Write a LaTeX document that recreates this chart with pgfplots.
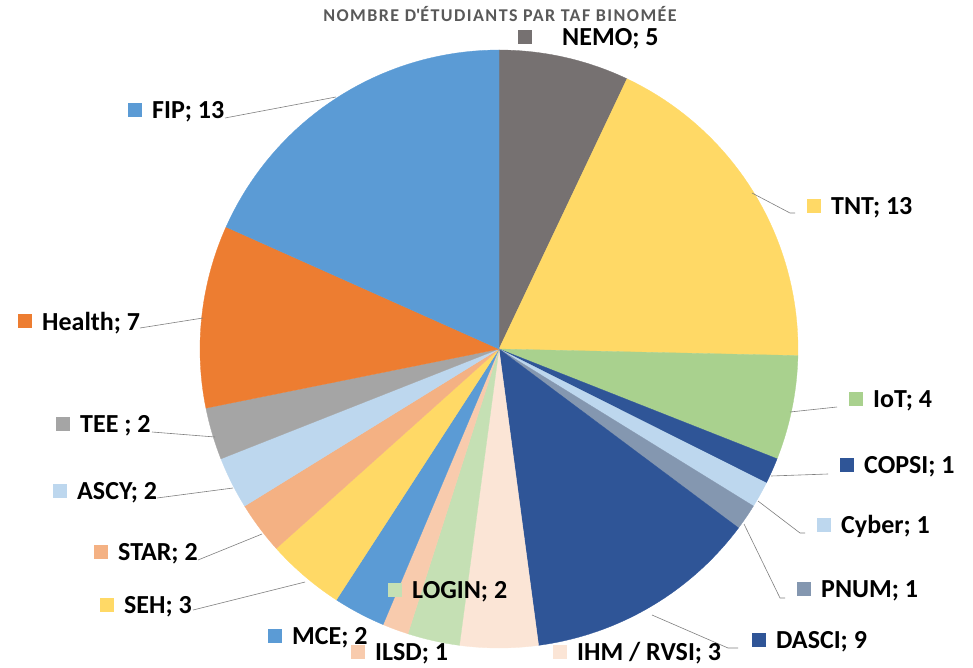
\documentclass[border=0pt]{standalone}
\usepackage{pgfplots}
\pgfplotsset{compat=1.18}
\usepackage{pgfplotstable}
\usepackage{fontspec}
\setmainfont{Carlito}
\newfontfamily\titlefont[LetterSpace=8]{Carlito}
\definecolor{cNEMO}{HTML}{767171}
\definecolor{cTNT}{HTML}{FFD966}
\definecolor{cIoT}{HTML}{A9D18E}
\definecolor{cCOPSI}{HTML}{2F5597}
\definecolor{cCyber}{HTML}{BDD7EE}
\definecolor{cPNUM}{HTML}{8497B0}
\definecolor{cDASCI}{HTML}{2F5597}
\definecolor{cIHM}{HTML}{FBE5D6}
\definecolor{cLOGIN}{HTML}{C5E0B4}
\definecolor{cILSD}{HTML}{F8CBAD}
\definecolor{cMCE}{HTML}{5B9BD5}
\definecolor{cSEH}{HTML}{FFD966}
\definecolor{cSTAR}{HTML}{F4B183}
\definecolor{cASCY}{HTML}{BDD7EE}
\definecolor{cTEE}{HTML}{A5A5A5}
\definecolor{cHealth}{HTML}{ED7D31}
\definecolor{cFIP}{HTML}{5B9BD5}
\definecolor{titlegray}{HTML}{595959}
\definecolor{leader}{HTML}{7F7F7F}

\pgfplotstableread[col sep=comma]{
name,value,color
NEMO,5,cNEMO
TNT,13,cTNT
IoT,4,cIoT
COPSI,1,cCOPSI
Cyber,1,cCyber
PNUM,1,cPNUM
DASCI,9,cDASCI
IHM,3,cIHM
LOGIN,2,cLOGIN
ILSD,1,cILSD
MCE,2,cMCE
SEH,3,cSEH
STAR,2,cSTAR
ASCY,2,cASCY
TEE,2,cTEE
Health,7,cHealth
FIP,13,cFIP
}\pietable

\newcommand{\labfont}{\fontsize{26}{29}\selectfont\bfseries}
\newcommand{\lab}[4]{% x, Y(baseline), color, text
  \node[anchor=base west, inner sep=0pt, font=\labfont] at (axis cs:#1,#2)
    {\textcolor{#3}{\rule[1.5pt]{14pt}{14pt}}\hspace{10pt}#4};}

\begin{document}
\begin{tikzpicture}
\begin{axis}[hide axis, scale only axis, x=1pt, y=1pt,
  xmin=0, xmax=973, ymin=0, ymax=667, clip=false]
% pie slices
\pgfplotstablegetrowsof{\pietable}
\pgfmathtruncatemacro\nrows{\pgfplotsretval-1}
\gdef\total{0}
\pgfplotsforeachungrouped \i in {0,...,\nrows}{%
  \pgfplotstablegetelem{\i}{value}\of\pietable
  \pgfmathsetmacro\tmp{\total+\pgfplotsretval}%
  \xdef\total{\tmp}%
}
\gdef\cum{0}
\pgfplotsforeachungrouped \i in {0,...,\nrows}{%
  \pgfplotstablegetelem{\i}{value}\of\pietable \let\val\pgfplotsretval
  \pgfplotstablegetelem{\i}{color}\of\pietable \let\col\pgfplotsretval
  \pgfmathsetmacro\aS{90-\cum/\total*360}%
  \pgfmathsetmacro\aE{90-(\cum+\val)/\total*360}%
  \pgfmathsetmacro\tmp{\cum+\val}%
  \xdef\cum{\tmp}%
  \gdef\pts{(499,318)}%
  \foreach \k in {0,...,40}{%
    \pgfmathsetmacro\ang{\aS+(\aE-\aS)*\k/40}%
    \pgfmathsetmacro\px{499+299*cos(\ang)}%
    \pgfmathsetmacro\py{318+299*sin(\ang)}%
    \xdef\pts{\pts (\px,\py)}%
  }%
  \edef\doplot{\noexpand\addplot[fill=\col, draw=\col, line width=0.3pt, no markers]
    coordinates {\pts (499,318)};}%
  \doplot
}
% leader lines
\addplot[leader, line width=0.6pt, no markers] coordinates {(752,474) (790,454) (795,454)};
\addplot[leader, line width=0.6pt, no markers] coordinates {(790,255) (837,260)};
\addplot[leader, line width=0.6pt, no markers] coordinates {(771,191) (828,193)};
\addplot[leader, line width=0.6pt, no markers] coordinates {(758,166) (800,134) (805,134)};
\addplot[leader, line width=0.6pt, no markers] coordinates {(744,143) (780,69) (785,69)};
\addplot[leader, line width=0.6pt, no markers] coordinates {(652,52) (728,19) (738,19)};
\addplot[leader, line width=0.6pt, no markers] coordinates {(336,570) (225,549)};
\addplot[leader, line width=0.6pt, no markers] coordinates {(203,349) (140,339)};
\addplot[leader, line width=0.6pt, no markers] coordinates {(215,230) (152,235)};
\addplot[leader, line width=0.6pt, no markers] coordinates {(233,179) (157,169)};
\addplot[leader, line width=0.6pt, no markers] coordinates {(262,133) (198,107)};
\addplot[leader, line width=0.6pt, no markers] coordinates {(305,85) (193,57)};
% title
\node[anchor=base, inner sep=0pt, text=titlegray, font=\titlefont\fontsize{18}{20}\selectfont\bfseries]
  at (axis cs:500,645) {NOMBRE D\textquotesingle ÉTUDIANTS PAR TAF BINOMÉE};
% labels
\node[anchor=base west, inner sep=0pt, font=\labfont] at (axis cs:518,621)
  {\textcolor{cNEMO}{\rule[1.5pt]{14pt}{14pt}}\hspace{30pt}NEMO; 5};
\lab{807}{452}{cTNT}{TNT; 13}
\lab{849}{259.5}{cIoT}{IoT; 4}
\lab{840}{194}{cCOPSI}{COPSI; 1}
\lab{817}{134}{cCyber}{Cyber; 1}
\lab{797}{70}{cPNUM}{PNUM; 1}
\lab{752}{19}{cDASCI}{DASCI; 9}
\lab{553}{7}{cIHM}{IHM / RVSI; 3}
\lab{388}{69}{cLOGIN}{LOGIN; 2}
\lab{351}{7}{cILSD}{ILSD; 1}
\lab{268}{23}{cMCE}{MCE; 2}
\lab{100}{54}{cSEH}{SEH; 3}
\lab{94}{107}{cSTAR}{STAR; 2}
\lab{53}{168}{cASCY}{ASCY; 2}
\lab{56}{235}{cTEE}{TEE ; 2}
\lab{18}{337}{cHealth}{Health; 7}
\lab{128}{548}{cFIP}{FIP; 13}
\end{axis}
\path (0,0) rectangle (973pt,667pt);
\end{tikzpicture}
\end{document}
